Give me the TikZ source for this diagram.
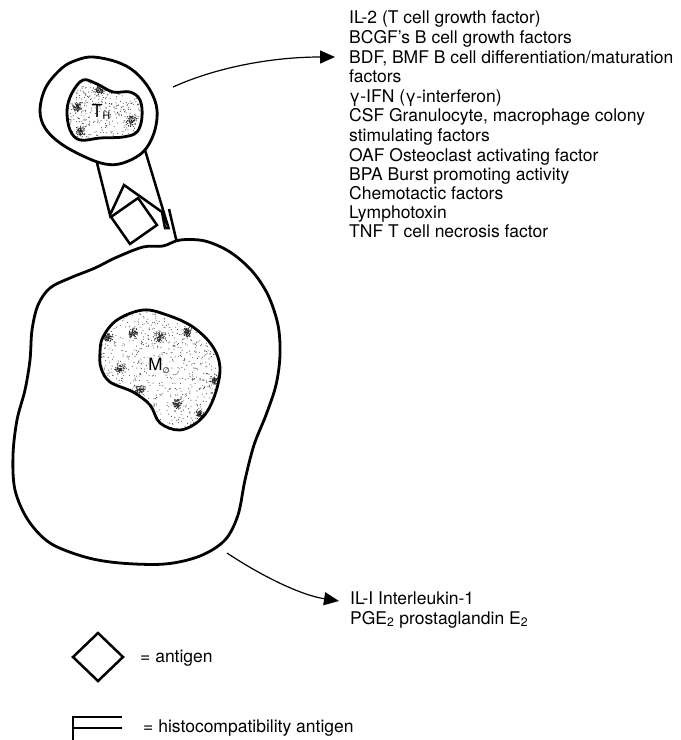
\documentclass[tikz,border=0pt]{standalone}
\usepackage{fontspec}
\setmainfont{TeX Gyre Heros}
\newfontfamily\symfont{DejaVu Sans}
\usetikzlibrary{arrows.meta}

\tikzset{
  membrane/.style={line width=2.8pt, line join=round, line cap=round},
  receptor/.style={line width=2.5pt, line join=miter},
  secretion/.style={line width=1.2pt, -{Triangle[length=15pt,width=13pt]}},
  listtext/.style={anchor=base west, inner sep=0pt, font=\fontsize{17.5}{19.4}\selectfont},
  celllabel/.style={inner sep=0pt, font=\fontsize{18}{18}\selectfont},
  stipple/.style={fill=black!70},
}

\newcommand{\stippleblob}[3]{% centre x, centre y, spread
  \foreach \k in {1,...,70}{
    \fill[black!85] ({#1+#3*(rand+rand)},{#2+#3*(rand+rand)}) circle (0.6);
  }
}

\begin{document}
\begin{tikzpicture}[x=1pt,y=-1pt]
\useasboundingbox (0,0) rectangle (681,740);
\fill[white] (0,0) rectangle (681,740);
\pgfmathsetseed{11}

% ---------- helper T cell ----------
\draw[membrane] plot[smooth cycle, tension=0.6] coordinates {
  (93,57) (117,62) (135,72) (150,90) (157,110) (154,133) (143,152)
  (123,163) (105,164) (83,156) (60,143) (45,128) (40,110) (46,87) (62,68) (77,60)};

\begin{scope}
  \clip plot[smooth cycle, tension=0.6] coordinates {
    (83,80) (97,84) (113,92) (130,92) (140,100) (142,117) (137,132)
    (123,137) (100,138) (80,140) (70,130) (67,110) (72,93)};
  \foreach \i in {1,...,480}{
    \fill[stipple] ({66+78*rnd},{78+64*rnd}) circle (0.55);
  }
  \stippleblob{77}{107}{2.6}
  \stippleblob{100}{90}{2.6}
  \stippleblob{131}{121}{3.2}
  \stippleblob{81}{131}{2.6}
\end{scope}
\draw[membrane] plot[smooth cycle, tension=0.6] coordinates {
  (83,80) (97,84) (113,92) (130,92) (140,100) (142,117) (137,132)
  (123,137) (100,138) (80,140) (70,130) (67,110) (72,93)};
\node[celllabel] (th) at (101,112) {T\raisebox{-2pt}{\fontsize{10.5}{10.5}\selectfont H}};

% ---------- macrophage ----------
\draw[membrane] plot[smooth cycle, tension=0.55] coordinates {
  (143,247) (163,246) (180,240) (205,241) (230,252) (252,271) (268,295)
  (278,325) (280,355) (276,385) (266,415) (254,445) (245,480) (238,515)
  (225,540) (200,556) (165,564) (120,563) (85,557) (50,543) (28,520)
  (15,490) (13,455) (17,420) (25,390) (30,360) (32,330) (38,305)
  (50,288) (70,278) (95,268) (115,258)};

\begin{scope}
  \clip plot[smooth cycle, tension=0.6] coordinates {
    (143,310) (167,315) (193,327) (213,347) (220,370) (213,400) (200,420)
    (180,430) (160,423) (150,405) (133,392) (110,382) (101,368) (100,352)
    (103,337) (117,320)};
  \foreach \i in {1,...,950}{
    \fill[stipple] ({99+123*rnd},{308+124*rnd}) circle (0.55);
  }
  \stippleblob{133}{333}{2.8}
  \stippleblob{160}{337}{3}
  \stippleblob{187}{332}{2.6}
  \stippleblob{108}{337}{2.6}
  \stippleblob{120}{368}{2.8}
  \stippleblob{140}{390}{3}
  \stippleblob{177}{404}{3}
  \stippleblob{215}{380}{2.8}
  \stippleblob{200}{415}{2.6}
\end{scope}
\draw[membrane] plot[smooth cycle, tension=0.6] coordinates {
  (143,310) (167,315) (193,327) (213,347) (220,370) (213,400) (200,420)
  (180,430) (160,423) (150,405) (133,392) (110,382) (101,368) (100,352)
  (103,337) (117,320)};
\node[celllabel, font=\fontsize{17}{17}\selectfont, fill=white, fill opacity=0.6, text opacity=1, inner sep=1pt] (mo) at (159,366)
  {M\raisebox{-3pt}{\symfont\fontsize{8}{8}\selectfont ∅}};

% ---------- T cell receptor, antigen and histocompatibility antigen ----------
\coordinate (tcrL) at (97,163);
\coordinate (tcrR) at (145,150);
\coordinate (notchL) at (110,215);
\coordinate (notchTop) at (124,185);
\coordinate (notchR) at (162,212);
\draw[receptor] (tcrL) -- (notchL) -- (notchTop) -- (notchR) -- (165,228) -- (168.5,228) -- (tcrR);
\draw[receptor, rotate around={35:(134,221)}] (117.5,204.5) rectangle (150.5,237.5);
\draw[receptor] (169,209) -- (176.5,241);

% ---------- secreted factors ----------
\coordinate (thout) at (173,87);
\coordinate (thlist) at (335,57);
\draw[secretion] (thout) .. controls (215,68) and (270,57) .. (thlist);

\node[listtext] (f1) at (349,23) {IL-2 (T cell growth factor)};
\node[listtext] (f2) at (349,43) {BCGF's B cell growth factors};
\node[listtext] (f3) at (349,63.5) {BDF, BMF B cell differentiation/maturation};
\node[listtext] (f4) at (349,82.5) {factors};
\node[listtext] (f5) at (349,102.5) {γ-IFN (γ-interferon)};
\node[listtext] (f6) at (349,121.5) {CSF Granulocyte, macrophage colony};
\node[listtext] (f7) at (349,141) {stimulating factors};
\node[listtext] (f8) at (349,161) {OAF Osteoclast activating factor};
\node[listtext] (f9) at (349,180.5) {BPA Burst promoting activity};
\node[listtext] (f10) at (349,199.5) {Chemotactic factors};
\node[listtext] (f11) at (349,218.5) {Lymphotoxin};
\node[listtext] (f12) at (349,237.5) {TNF T cell necrosis factor};

\coordinate (moout) at (227,553);
\coordinate (molist) at (339,601);
\draw[secretion] (moout) .. controls (260,575) and (300,595) .. (molist);

\node[listtext] (m1) at (350,604) {IL-I Interleukin-1};
\node[listtext] (m2) at (350,624) {PGE\textsubscript{2} prostaglandin E\textsubscript{2}};

% ---------- key ----------
\draw[receptor] (73,657) -- (98,633) -- (123,657) -- (98,681) -- cycle;
\node[listtext] (k1) at (140,662) {= antigen};
\draw[receptor] (122,717) -- (73,717) -- (73,741);
\draw[receptor] (73,728) -- (122,728);
\node[listtext] (k2) at (143,732) {= histocompatibility antigen};
\end{tikzpicture}
\end{document}
